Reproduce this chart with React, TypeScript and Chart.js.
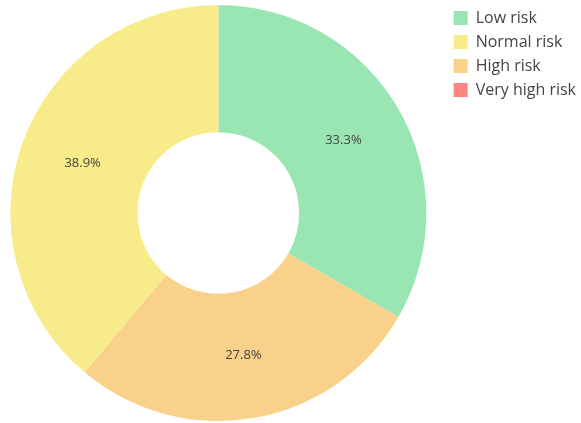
import React, { useEffect, useRef } from "react";
import { Chart, registerables } from "chart.js";

Chart.register(...registerables);

// Data (drawing order clockwise from 12 o'clock)
const categories = ["Low risk", "High risk", "Normal risk", "Very high risk"];
const counts = [6, 5, 7, 0];
const colors = ["#99e6b3", "#f9d18b", "#f8ec8a", "#fd8582"];
// Legend order
const legendOrder = ["Low risk", "Normal risk", "High risk", "Very high risk"];

const FONT = "'Open Sans', 'Noto Sans', sans-serif";

const pctLabels = {
  id: "pctLabels",
  afterDatasetsDraw(chart: any) {
    const ctx = chart.ctx;
    const meta = chart.getDatasetMeta(0);
    const data = chart.data.datasets[0].data as number[];
    const total = data.reduce((a, b) => a + b, 0);
    ctx.save();
    ctx.font = `13px ${FONT}`;
    ctx.fillStyle = "#444444";
    ctx.textAlign = "center";
    ctx.textBaseline = "middle";
    meta.data.forEach((arc: any, i: number) => {
      const v = data[i];
      if (!v) return;
      const p = arc.tooltipPosition();
      ctx.fillText(((v / total) * 100).toFixed(1) + "%", p.x, p.y);
    });
    ctx.restore();
  },
};

const SHIFT = 9;

export default function App() {
  const ref = useRef<HTMLCanvasElement>(null);
  useEffect(() => {
    if (!ref.current) return;
    const chart = new Chart(ref.current, {
      type: "doughnut",
      data: {
        labels: categories,
        datasets: [
          {
            data: counts,
            backgroundColor: colors,
            borderWidth: 0,
          },
        ],
      },
      options: {
        animation: false,
        responsive: false,
        maintainAspectRatio: false,
        radius: 208,
        cutout: 82,
        layout: { padding: { top: 2, bottom: 0, left: 0, right: -5 } },
        plugins: {
          tooltip: { enabled: false },
          legend: {
            position: "right",
            align: "start",
            labels: {
              boxWidth: 14,
              boxHeight: 14,
              padding: 8,
              color: "#444444",
              font: { family: FONT, size: 16 },
              sort: (a: any, b: any) =>
                legendOrder.indexOf(a.text) - legendOrder.indexOf(b.text),
            },
          },
        },
      },
      plugins: [pctLabels],
    });
    return () => chart.destroy();
  }, []);
  return (
    <div style={{ position: "fixed", left: 0, top: 0, width: 581, height: 423, background: "#fff", overflow: "hidden" }}>
      <canvas
        ref={ref}
        width={581 + SHIFT}
        height={424}
        style={{ position: "absolute", left: -SHIFT, top: 0 }}
      />
    </div>
  );
}
